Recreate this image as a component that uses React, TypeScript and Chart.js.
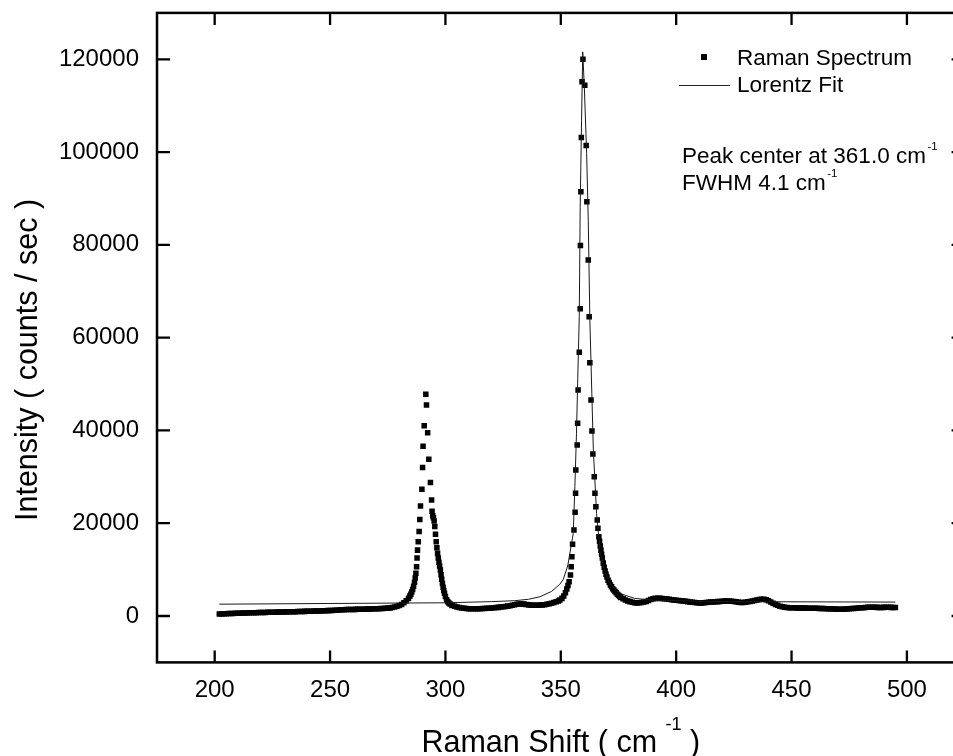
import { useEffect, useRef } from 'react';
import { Chart, registerables } from 'chart.js';

Chart.register(...registerables);

// ---------- data ----------
// Raman spectrum: [shift cm-1, intensity counts/sec]
const ramanSpectrum: [number, number][] = [
  [202, 420], [203, 440], [204, 470], [205, 500], [206, 520], [207, 530], [208, 560], [209, 590],
  [210, 600], [211, 610], [212, 640], [213, 650], [214, 660], [215, 680], [216, 700], [217, 700],
  [218, 720], [219, 740], [220, 750], [221, 760], [222, 780], [223, 790], [224, 800], [225, 820],
  [226, 830], [227, 840], [228, 860], [229, 870], [230, 880], [231, 890], [232, 910], [233, 920],
  [234, 930], [235, 940], [236, 960], [237, 970], [238, 990], [239, 1000], [240, 1020], [241, 1030],
  [242, 1040], [243, 1060], [244, 1070], [245, 1090], [246, 1100], [247, 1120], [248, 1140], [249, 1160],
  [250, 1180], [251, 1200], [252, 1220], [253, 1250], [254, 1290], [255, 1330], [256, 1360], [257, 1380],
  [258, 1400], [259, 1410], [260, 1420], [261, 1430], [262, 1450], [263, 1460], [264, 1470], [265, 1480],
  [266, 1500], [267, 1510], [268, 1530], [269, 1550], [270, 1560], [271, 1580], [272, 1600], [273, 1630],
  [274, 1660], [275, 1700], [276, 1750], [277, 1820], [278, 1950], [279, 2100], [280, 2250], [281, 2500],
  [282, 2850], [283, 3300], [284, 3800],
  [284.6, 4300], [285.0, 4700], [285.4, 5150], [285.8, 5700], [286.2, 6400], [286.6, 7300], [286.9, 8200],
  [287.2, 9200], [287.5, 10600], [287.7, 12500], [287.9, 14200], [288.2, 16000], [288.6, 18200],
  [288.9, 20800], [289.2, 23700], [289.8, 27300], [290.1, 32000], [290.3, 36600], [290.8, 41000],
  [291.5, 47800], [291.8, 45500], [292.3, 39500], [292.8, 33800], [293.5, 28800], [294.0, 25000],
  [294.2, 22600], [294.5, 21600], [294.8, 21200], [295.1, 20500], [295.4, 19300], [295.7, 17600],
  [296.0, 16000], [296.3, 14700], [296.6, 13500], [296.9, 12500], [297.2, 11600], [297.5, 10800],
  [297.8, 9900], [298.1, 8900], [298.4, 7900], [298.7, 7000], [299.0, 6200], [299.3, 5500],
  [299.6, 4900], [300.0, 4200], [300.5, 3500], [301.0, 3100], [301.5, 2800], [302.0, 2600], [302.8, 2400],
  [303, 2250], [304, 2100], [305, 1950], [306, 1850], [307, 1750], [308, 1680], [309, 1620], [310, 1580],
  [311, 1560], [312, 1540], [313, 1540], [314, 1560], [315, 1580], [316, 1600], [317, 1620], [318, 1650],
  [319, 1680], [320, 1720], [321, 1760], [322, 1810], [323, 1860], [324, 1920], [325, 1980], [326, 2050],
  [327, 2130], [328, 2220], [329, 2320], [330, 2420], [331, 2520], [332, 2580], [333, 2600], [334, 2560],
  [335, 2480], [336, 2400], [337, 2350], [338, 2300], [339, 2300], [340, 2300], [341, 2350], [342, 2400],
  [343, 2450], [344, 2550], [345, 2650], [346, 2750], [347, 2900], [348, 3050], [349, 3250],
  [349.6, 3450], [350.5, 3800], [351.3, 4300], [352.0, 5000], [352.6, 5800], [353.1, 6600],
  [353.6, 7390], [354.2, 8840], [354.5, 10620], [354.8, 12780], [355.1, 15450], [355.7, 18530],
  [356.2, 22350], [356.4, 26440], [356.5, 31460], [357.1, 36850], [357.3, 41530], [357.5, 48700],
  [358.0, 56830], [358.4, 66220], [358.5, 79880], [358.7, 91440], [358.9, 103160], [359.2, 115140],
  [359.6, 120030], [360.4, 114430], [361.0, 101430], [361.3, 89280], [361.9, 76720], [362.3, 64500],
  [362.6, 54590], [363.1, 46550], [363.5, 39870], [363.9, 34910], [364.5, 30020], [364.8, 26440],
  [365.2, 23550], [365.8, 20690], [366.1, 18900], [366.5, 17100], [366.8, 16100], [367.1, 15100],
  [367.4, 14200], [367.7, 13300], [368.0, 12500], [368.4, 11400], [368.8, 10500], [369.2, 9700],
  [369.6, 9000], [370.0, 8400], [370.5, 7700], [371.0, 7200], [371.5, 6700], [372.0, 6300],
  [372.5, 5900], [373.0, 5600], [373.5, 5300], [374.0, 5000], [374.5, 4700], [375.0, 4450],
  [375.5, 4200], [376, 4000], [377, 3700], [378, 3450], [379, 3250], [380, 3100], [381, 2950],
  [382, 2850], [383, 2800], [384, 2850], [385, 2900], [386, 3000], [387, 3150], [388, 3350],
  [389, 3550], [390, 3700], [391, 3800], [392, 3850], [393, 3800], [394, 3750], [395, 3700],
  [396, 3650], [397, 3600], [398, 3500], [399, 3450], [400, 3400], [401, 3350], [402, 3300],
  [403, 3250], [404, 3200], [405, 3100], [406, 3000], [407, 2950], [408, 2900], [409, 2850],
  [410, 2800], [411, 2800], [412, 2850], [413, 2900], [414, 2950], [415, 3000], [416, 3000],
  [417, 3050], [418, 3100], [419, 3150], [420, 3200], [421, 3250], [422, 3250], [423, 3250],
  [424, 3200], [425, 3150], [426, 3050], [427, 2950], [428, 2900], [429, 2900], [430, 2950],
  [431, 3050], [432, 3150], [433, 3250], [434, 3350], [435, 3450], [436, 3550], [437, 3600],
  [438, 3600], [439, 3500], [440, 3300], [441, 3000], [442, 2750], [443, 2500], [444, 2300],
  [445, 2100], [446, 2000], [447, 1900], [448, 1850], [449, 1800], [450, 1800], [451, 1780],
  [452, 1750], [453, 1750], [454, 1720], [455, 1700], [456, 1700], [457, 1680], [458, 1680],
  [459, 1660], [460, 1650], [461, 1650], [462, 1640], [463, 1620], [464, 1600], [465, 1580],
  [466, 1560], [467, 1540], [468, 1520], [469, 1500], [470, 1480], [471, 1460], [472, 1480],
  [473, 1500], [474, 1530], [475, 1560], [476, 1600], [477, 1640], [478, 1680], [479, 1720],
  [480, 1760], [481, 1800], [482, 1850], [483, 1870], [484, 1880], [485, 1880], [486, 1870],
  [487, 1860], [488, 1850], [489, 1850], [490, 1860], [491, 1870], [492, 1870], [493, 1860],
  [494, 1850], [495, 1850],
];

// Lorentz fit curve vertices: [shift cm-1, intensity]
const lorentzFit: [number, number][] = [
  [202, 2550], [250, 2700], [300, 2850], [320, 3100], [330, 3300], [336, 3600], [341, 4160],
  [346, 5300], [349.5, 6800], [351, 7800], [353, 10800], [355.4, 17800], [356.1, 27900],
  [356.8, 39400], [357.3, 50200], [358.0, 64500], [358.4, 88000], [359.0, 106900], [359.5, 121600],
  [360.2, 114000], [361.2, 99700], [361.9, 85300], [362.6, 63800], [364.1, 35800], [365.5, 22100],
  [367, 14000], [369, 9500], [372, 6500], [376, 4800], [382, 3800], [390, 3400], [420, 3100],
  [495, 3000],
];

const xMajorTicks = [200, 250, 300, 350, 400, 450, 500];
const yMajorTicks = [0, 20000, 40000, 60000, 80000, 100000, 120000];
const legendLabels = ['Raman Spectrum', 'Lorentz Fit'];
const annotationLines = ['Peak center at 361.0 cm', 'FWHM 4.1 cm'];
const unitSuperscript = '-1';
const xTitleMain = 'Raman Shift ( cm ';
const xTitleEnd = ' )';
const yTitle = 'Intensity ( counts / sec )';

const FONT = '"Liberation Sans", Arial, Helvetica, sans-serif';

const framePlugin = {
  id: 'framePlugin',
  afterDatasetsDraw(chart: any) {
    const { ctx, chartArea: a, scales } = chart;
    const xs = scales.x;
    const ys = scales.y;
    ctx.save();
    ctx.strokeStyle = '#000';
    ctx.fillStyle = '#000';
    ctx.lineWidth = 2.5;
    ctx.strokeRect(a.left, a.top, a.right - a.left, a.bottom - a.top);

    ctx.lineWidth = 2.3;
    ctx.beginPath();
    xs.ticks.forEach((t: any) => {
      const v = t.value;
      if (v % 25 !== 0 || v <= xs.min || v >= xs.max) return;
      const len = v % 50 === 0 ? 12 : 6;
      const px = xs.getPixelForValue(v);
      ctx.moveTo(px, a.bottom);
      ctx.lineTo(px, a.bottom - len);
      ctx.moveTo(px, a.top);
      ctx.lineTo(px, a.top + len);
    });
    ys.ticks.forEach((t: any) => {
      const v = t.value;
      if (v % 10000 !== 0 || v <= ys.min || v >= ys.max) return;
      const len = v % 20000 === 0 ? 13 : 7;
      const py = ys.getPixelForValue(v);
      ctx.moveTo(a.left, py);
      ctx.lineTo(a.left + len, py);
      ctx.moveTo(a.right, py);
      ctx.lineTo(a.right - len, py);
    });
    ctx.stroke();

    // legend
    ctx.textAlign = 'left';
    ctx.textBaseline = 'alphabetic';
    ctx.font = `22.5px ${FONT}`;
    ctx.fillRect(701, 54, 6, 6);
    ctx.fillText(legendLabels[0], 737, 65);
    ctx.lineWidth = 1;
    ctx.strokeStyle = '#222';
    ctx.beginPath();
    ctx.moveTo(679, 85.5);
    ctx.lineTo(730, 85.5);
    ctx.stroke();
    ctx.fillText(legendLabels[1], 737, 92);

    // annotation
    const annBase = [163.3, 190];
    annotationLines.forEach((s, i) => {
      ctx.font = `22.5px ${FONT}`;
      ctx.fillText(s, 682, annBase[i]);
      const w = ctx.measureText(s).width;
      ctx.font = `11.5px ${FONT}`;
      ctx.fillText(unitSuperscript, 682 + w + 1.5, annBase[i] - 13);
    });

    // x title
    ctx.font = `30.5px ${FONT}`;
    const wa = ctx.measureText(xTitleMain).width;
    const wc = ctx.measureText(xTitleEnd).width;
    ctx.font = `18px ${FONT}`;
    const wb = ctx.measureText(unitSuperscript).width;
    const total = wa + wb + wc;
    const sx = (a.left + a.right) / 2 - total / 2;
    ctx.font = `30.5px ${FONT}`;
    ctx.fillText(xTitleMain, sx, 751.5);
    ctx.fillText(xTitleEnd, sx + wa + wb, 751.5);
    ctx.font = `18px ${FONT}`;
    ctx.fillText(unitSuperscript, sx + wa, 730);

    // y title
    ctx.font = `30.5px ${FONT}`;
    ctx.translate(36.7, 360);
    ctx.rotate(-Math.PI / 2);
    ctx.textAlign = 'center';
    ctx.fillText(yTitle, 0, 0);
    ctx.restore();
  },
};

export default function App() {
  const ref = useRef<HTMLCanvasElement | null>(null);

  useEffect(() => {
    if (!ref.current) return;
    const chart = new Chart(ref.current, {
      type: 'scatter',
      data: {
        datasets: [
          {
            label: legendLabels[1],
            data: lorentzFit.map(([x, y]) => ({ x, y })),
            showLine: true,
            borderColor: '#1a1a1a',
            borderWidth: 1,
            pointRadius: 0,
            order: 0,
          },
          {
            label: legendLabels[0],
            data: ramanSpectrum.map(([x, y]) => ({ x, y })),
            showLine: false,
            pointStyle: 'rect',
            pointRadius: 3.9,
            pointBorderWidth: 0,
            pointBackgroundColor: '#000',
            pointBorderColor: '#000',
            order: 1,
          },
        ],
      },
      options: {
        animation: false,
        responsive: false,
        events: [],
        layout: { padding: { top: 12.9, right: 10.4, left: 0, bottom: 0 } },
        plugins: { legend: { display: false }, tooltip: { enabled: false } },
        scales: {
          x: {
            type: 'linear',
            min: 175,
            max: 525,
            grid: { display: false, drawTicks: false },
            border: { display: false },
            afterFit: (s: any) => {
              s.height = 93.6;
              s.paddingLeft = 0;
              s.paddingRight = 0;
              s.paddingTop = 0;
              s.paddingBottom = 0;
            },
            ticks: {
              stepSize: 25,
              autoSkip: false,
              maxRotation: 0,
              padding: 14,
              color: '#000',
              font: { family: FONT, size: 24 },
              callback: (v: any) => (xMajorTicks.includes(Number(v)) ? String(v) : null),
            },
          },
          y: {
            type: 'linear',
            min: -10000,
            max: 130000,
            grid: { display: false, drawTicks: false },
            border: { display: false },
            afterFit: (s: any) => {
              s.width = 157;
              s.paddingLeft = 0;
              s.paddingRight = 0;
              s.paddingTop = 0;
              s.paddingBottom = 0;
            },
            ticks: {
              stepSize: 10000,
              autoSkip: false,
              padding: 18,
              color: '#000',
              font: { family: FONT, size: 24 },
              callback: (v: any) => (yMajorTicks.includes(Number(v)) ? String(v) : null),
            },
          },
        },
      },
      plugins: [framePlugin],
    } as any);
    return () => chart.destroy();
  }, []);

  return (
    <div style={{ position: 'fixed', left: 0, top: 0, width: 953, height: 756, overflow: 'hidden', background: '#fff' }}>
      <canvas ref={ref} width={975} height={756} style={{ width: 975, height: 756, display: 'block' }} />
    </div>
  );
}
